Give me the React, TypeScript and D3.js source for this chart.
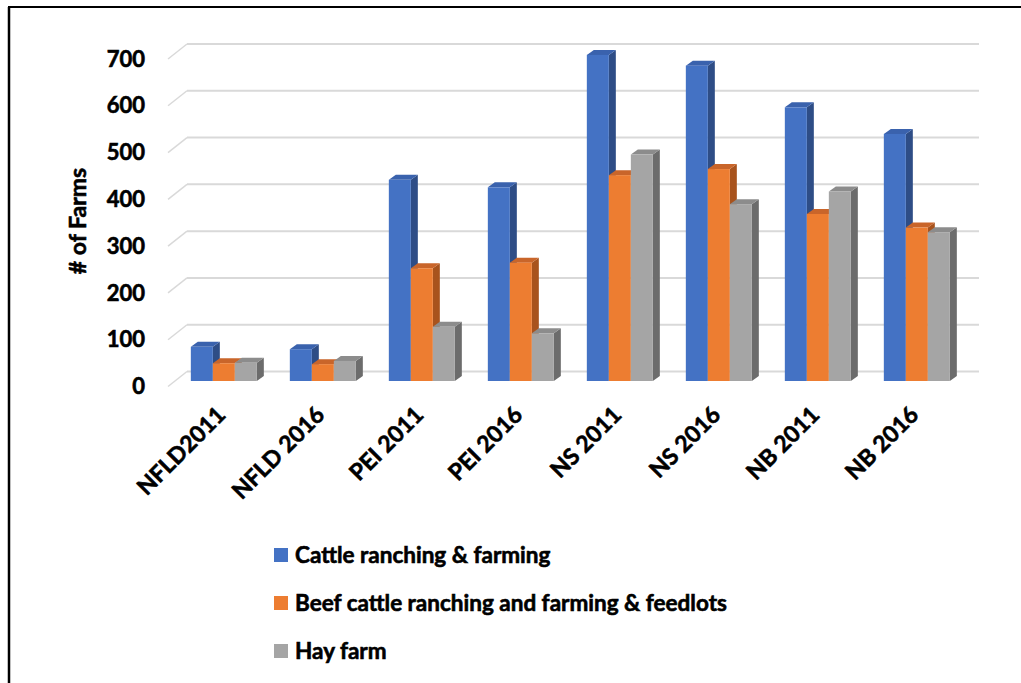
import * as d3 from "d3";

const categories = ["NFLD2011", "NFLD 2016", "PEI 2011", "PEI 2016", "NS 2011", "NS 2016", "NB 2011", "NB 2016"];
const seriesNames = ["Cattle ranching & farming", "Beef cattle ranching and farming & feedlots", "Hay farm"];
const cattle = [73, 68, 430, 414, 697, 674, 585, 528];
const beef = [38, 36, 241, 253, 440, 453, 357, 328];
const hay = [39, 43, 116, 102, 484, 378, 405, 318];
const yTicks = [0, 100, 200, 300, 400, 500, 600, 700];

const faces = [
  { front: "#4472c4", side: "#2e4d86", top: "#3a62ad" },
  { front: "#ed7d31", side: "#a8531d", top: "#c9652a" },
  { front: "#a5a5a5", side: "#6c6c6c", top: "#8c8c8c" },
];

const W = 1021;
const H = 683;
const FONT = "Lato, 'Open Sans', sans-serif";
const depth = { dx: 19, dy: -15 };
const barDepth = { dx: 7, dy: -5 };
// Calibri bold in the original is heavier than Lato bold, so thicken a bit
const heavy = { fontFamily: FONT, fontWeight: 700, stroke: "#000", strokeWidth: 0.6 };

export default function App() {
  const series = [cattle, beef, hay];

  // floor front edge; bars sit a third of the way into the floor
  const frontX = d3.scaleBand<string>().domain(categories).range([168, 960]);
  const barShift = depth.dx / 3;
  const yFront = d3.scaleLinear().domain([0, 700]).range([386.5, 59]);
  const yBack = d3.scaleLinear().domain([0, 700]).range([371.5, 44]);
  const yBar = d3.scaleLinear().domain([0, 700]).range([381, 53.5]);
  const groupW = 66;
  const inner = d3.scaleBand<number>().domain([0, 1, 2]).range([0, groupW]);
  const bw = inner.bandwidth();

  const backLeft = frontX.range()[0] + depth.dx;
  const backRight = frontX.range()[1] + depth.dx;

  return (
    <svg width={W} height={H} style={{ position: "absolute", left: 0, top: 0, background: "#fff" }}>
      <line x1={8} y1={7} x2={W} y2={7} stroke="#000" strokeWidth={2} />
      <line x1={9} y1={7} x2={9} y2={H} stroke="#000" strokeWidth={2.5} />

      {yTicks.map(t => (
        <g key={t}>
          <line x1={backLeft} x2={backRight} y1={yBack(t)} y2={yBack(t)} stroke="#d9d9d9" strokeWidth={2} />
          <line x1={frontX.range()[0]} y1={yFront(t)} x2={backLeft} y2={yBack(t)} stroke="#d9d9d9" strokeWidth={1.5} />
          <text x={145} y={yFront(t)} dy="0.35em" textAnchor="end" fontSize={22} {...heavy}>
            {t}
          </text>
        </g>
      ))}

      <text transform={`translate(86,221) rotate(-90)`} textAnchor="middle" fontSize={23} {...heavy}>
        # of Farms
      </text>

      {categories.map((c, i) => {
        const gx = frontX(c)! + barShift + (frontX.bandwidth() - groupW) / 2;
        return (
          <g key={c}>
            {series.map((s, k) => {
              const x = gx + inner(k)!;
              const y = yBar(s[i]);
              const base = yBar(0);
              const f = faces[k];
              return (
                <g key={k}>
                  <polygon
                    points={`${x + bw},${y} ${x + bw + barDepth.dx},${y + barDepth.dy} ${x + bw + barDepth.dx},${base + barDepth.dy} ${x + bw},${base}`}
                    fill={f.side}
                  />
                  <polygon
                    points={`${x},${y} ${x + barDepth.dx},${y + barDepth.dy} ${x + bw + barDepth.dx},${y + barDepth.dy} ${x + bw},${y}`}
                    fill={f.top}
                  />
                  <rect x={x} y={y} width={bw} height={base - y} fill={f.front} />
                </g>
              );
            })}
            <text
              transform={`translate(${gx + groupW / 2 - 9},${404}) rotate(-45)`}
              textAnchor="end"
              dy="0.75em"
              fontSize={23}
              {...heavy}
            >
              {c}
            </text>
          </g>
        );
      })}

      {seriesNames.map((n, k) => {
        const cy = 555 + k * 48;
        return (
          <g key={n}>
            <rect x={274} y={cy - 7} width={14} height={14} fill={faces[k].front} />
            <text x={295} y={cy} dy="0.35em" fontSize={22.5} {...heavy}>
              {n}
            </text>
          </g>
        );
      })}
    </svg>
  );
}
